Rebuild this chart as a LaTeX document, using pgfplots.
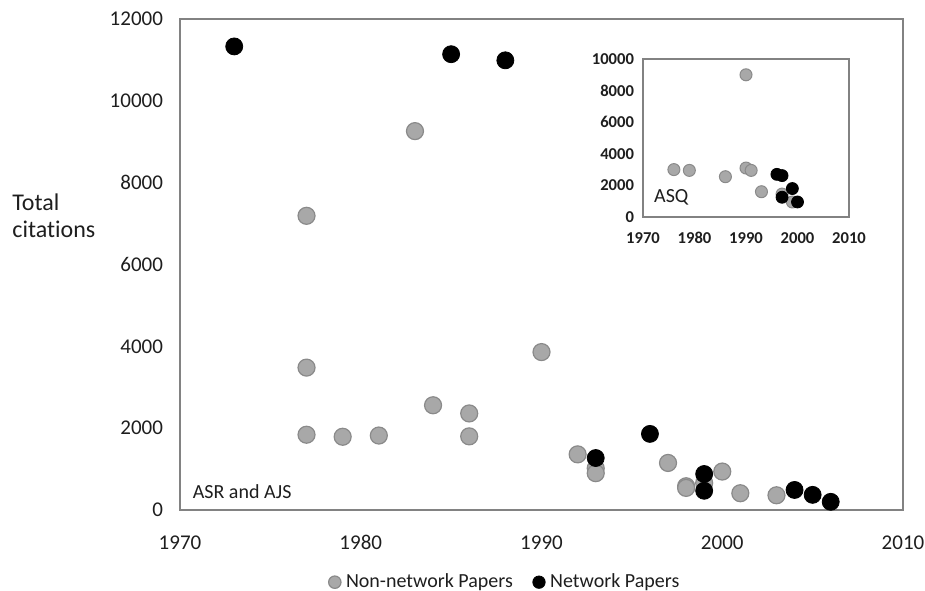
\documentclass[border=0pt]{standalone}
\usepackage{pgfplots}
\pgfplotsset{compat=1.18}
\usepackage{fontspec}
\setmainfont{Carlito}[Ligatures=NoCommon]
\definecolor{nongray}{RGB}{168,168,168}
\definecolor{nonedge}{RGB}{138,138,138}
\definecolor{axgray}{RGB}{130,130,130}
\definecolor{txt}{RGB}{30,30,30}
\begin{document}
\begin{tikzpicture}
\path[use as bounding box] (0,0) rectangle (462.5pt,295pt);
\node[anchor=west, align=left, font=\fontsize{12}{13.5}\selectfont, text=txt, inner sep=0pt] at (6pt,187pt) {Total\\citations};
\begin{axis}[
  at={(90pt,40pt)}, anchor=south west, scale only axis,
  width=361.5pt, height=245.5pt,
  xmin=1970, xmax=2010, ymin=0, ymax=12000,
  xtick={1970,1980,...,2010}, ytick={0,2000,...,12000},
  axis line style={axgray, line width=0.8pt},
  major tick length=0pt,
  scaled y ticks=false, scaled x ticks=false,
  /pgf/number format/1000 sep={},
  /pgf/number format/assume math mode=true,
  tick label style={font=\fontsize{10.5}{12}\selectfont, text=txt},
  yticklabel style={xshift=-5pt},
  xticklabel style={yshift=-9pt, text height=7pt, text depth=0pt},
  legend style={at={(0.205,-0.147)}, anchor=west, draw=none, fill=none,
    legend columns=2, font=\fontsize{10}{11}\selectfont, text=txt, inner sep=0pt,
    /tikz/every odd column/.append style={column sep=0.5pt},
    /tikz/every even column/.append style={column sep=8pt}},
  legend image code/.code={\draw[#1, mark size=3.1pt] plot coordinates {(0pt,0pt)};},
  legend cell align=left,
]
\addplot[only marks, mark=*, mark size=4.25pt, mark options={fill=nongray, draw=nonedge, line width=0.6pt}]
  coordinates {
  (1977,7190) (1977,3480) (1977,1840) (1979,1790) (1981,1820)
  (1983,9260) (1984,2560) (1986,2360) (1986,1800) (1990,3860)
  (1992,1360) (1993,1020) (1993,900) (1997,1150) (1998,580)
  (1998,540) (1999,660) (2000,940) (2001,410) (2003,360)
  };
\addlegendentry{Non-network Papers}
\addplot[only marks, mark=*, mark size=4.25pt, mark options={fill=black, draw=black}]
  coordinates {
  (1973,11330) (1985,11140) (1988,10990) (1993,1270) (1996,1860)
  (1999,880) (1999,470) (2004,490) (2005,370) (2006,200)
  };
\addlegendentry{Network Papers}
\node[anchor=west, font=\fontsize{10}{12}\selectfont, text=txt] at (rel axis cs:0.008,0.037) {ASR and AJS};
\end{axis}
\begin{axis}[
  at={(321.5pt,186.5pt)}, anchor=south west, scale only axis,
  width=103pt, height=79pt,
  xmin=1970, xmax=2010, ymin=0, ymax=10000,
  xtick={1970,1980,...,2010}, ytick={0,2000,...,10000},
  axis background/.style={fill=white},
  axis line style={axgray, line width=0.8pt},
  major tick length=0pt,
  scaled y ticks=false, scaled x ticks=false,
  /pgf/number format/1000 sep={},
  /pgf/number format/assume math mode=true,
  tick label style={font=\bfseries\fontsize{8.3}{9}\selectfont, text=txt},
  yticklabel style={xshift=-1pt},
  xticklabel style={yshift=-4pt, text height=5.5pt, text depth=0pt},
]
\addplot[only marks, mark=*, mark size=3pt, mark options={fill=nongray, draw=nonedge, line width=0.5pt}]
  coordinates {
  (1976,3000) (1979,2950) (1986,2550) (1990,9000) (1990,3100)
  (1991,2950) (1993,1600) (1997,1450) (1999,950)
  };
\addplot[only marks, mark=*, mark size=3pt, mark options={fill=black, draw=black}]
  coordinates {
  (1996,2700) (1997,2620) (1997,1250) (1999,1800) (2000,950)
  };
\node[anchor=west, font=\fontsize{10}{12}\selectfont, text=txt] at (rel axis cs:0.02,0.127) {ASQ};
\end{axis}
\end{tikzpicture}
\end{document}
